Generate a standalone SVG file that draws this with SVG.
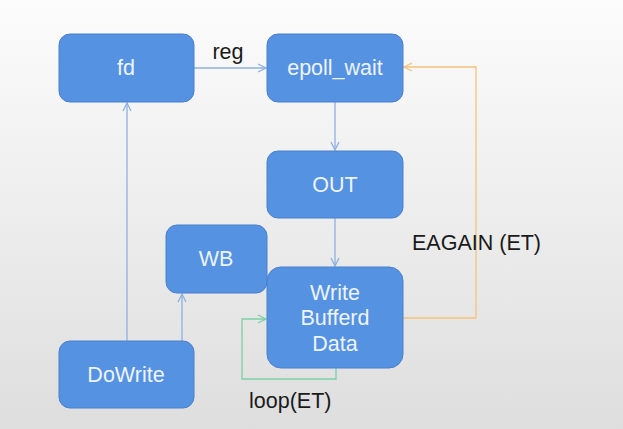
<svg xmlns="http://www.w3.org/2000/svg" width="623" height="429" viewBox="0 0 623 429">
<defs>
<linearGradient id="bg" x1="0" y1="0" x2="0" y2="1">
<stop offset="0" stop-color="#fcfcfc"/>
<stop offset="1" stop-color="#dedede"/>
</linearGradient>
<marker id="ab" viewBox="0 0 10 10" refX="9" refY="5" markerWidth="10" markerHeight="10" markerUnits="userSpaceOnUse" orient="auto">
<path d="M1,1 L9,5 L1,9" fill="none" stroke="#8fb0e0" stroke-width="1.3"/>
</marker>
<marker id="ao" viewBox="0 0 10 10" refX="9" refY="5" markerWidth="10" markerHeight="10" markerUnits="userSpaceOnUse" orient="auto">
<path d="M1,1 L9,5 L1,9" fill="none" stroke="#f4c27c" stroke-width="1.3"/>
</marker>
<marker id="ag" viewBox="0 0 10 10" refX="9" refY="5" markerWidth="10" markerHeight="10" markerUnits="userSpaceOnUse" orient="auto">
<path d="M1,1 L9,5 L1,9" fill="none" stroke="#7ccfa6" stroke-width="1.3"/>
</marker>
</defs>
<style>
.node rect { fill: #5592e1; stroke: #4a80cc; stroke-width: 1; }
.node text { fill: #eef4fc; font-family: "Liberation Sans", Arial, sans-serif; font-size: 21.5px; text-anchor: middle; dominant-baseline: central; }
.lbl { fill: #1a1a1a; font-family: "Liberation Sans", Arial, sans-serif; font-size: 21.5px; }
.cb { fill: none; stroke: #8fb0e0; stroke-width: 1.3; marker-end: url(#ab); }
.co { fill: none; stroke: #f4c27c; stroke-width: 1.3; marker-end: url(#ao); }
.cg { fill: none; stroke: #7ccfa6; stroke-width: 1.3; marker-end: url(#ag); }
</style>
<rect x="0" y="0" width="623" height="429" fill="url(#bg)"/>
<g id="connectors">
<path class="cb" d="M194,68 L266,68"/>
<path class="cb" d="M335,102 L335,150"/>
<path class="cb" d="M335,218 L335,266"/>
<path class="cb" d="M127,341 L127,103"/>
<path class="cb" d="M182,341 L182,294"/>
<path class="co" d="M403,318 L476,318 L476,67 L404,67"/>
<path class="cg" d="M336,368 L336,379 L242,379 L242,319 L266,319"/>
<text class="lbl" x="228" y="59" text-anchor="middle">reg</text>
<text class="lbl" x="412" y="250">EAGAIN (ET)</text>
<text class="lbl" x="249" y="408">loop(ET)</text>
</g>
<g id="fd" class="node"><rect x="59" y="34" width="135" height="68" rx="11"/><text x="126" y="68">fd</text></g>
<g id="epoll_wait" class="node"><rect x="267" y="34" width="136" height="68" rx="11"/><text x="335" y="68">epoll_wait</text></g>
<g id="out" class="node"><rect x="267" y="151" width="136" height="67" rx="11"/><text x="335" y="185">OUT</text></g>
<g id="wb" class="node"><rect x="166" y="225" width="101" height="68" rx="11"/><text x="216" y="259">WB</text></g>
<g id="wbd" class="node"><rect x="267" y="267" width="136" height="101" rx="14"/><text x="335" y="293">Write</text><text x="335" y="318">Bufferd</text><text x="335" y="344">Data</text></g>
<g id="dowrite" class="node"><rect x="59" y="341" width="135" height="67" rx="11"/><text x="126" y="375">DoWrite</text></g>
</svg>
